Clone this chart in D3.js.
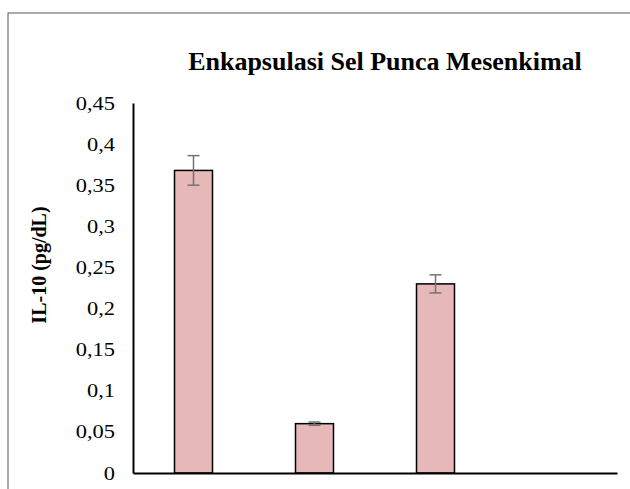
<!DOCTYPE html>
<html><head><meta charset="utf-8">
<script src="https://cdn.jsdelivr.net/npm/d3@7"></script>
<style>html,body{margin:0;padding:0;background:#fff;}svg{display:block;}
svg text{font-family:'Liberation Serif','Times New Roman','DejaVu Serif',serif;}</style>
</head><body>
<script>
const categories = ["A", "B", "C", "D"];
const values = [0.368, 0.060, 0.230, null];
const errors = [0.018, 0.002, 0.011, null];
const yTicks = [0, 0.05, 0.1, 0.15, 0.2, 0.25, 0.3, 0.35, 0.4, 0.45];
const title = "Enkapsulasi Sel Punca Mesenkimal";
const yLabel = "IL-10 (pg/dL)";

const W = 630, H = 489;
const FONT = "'Liberation Serif','Times New Roman','DejaVu Serif',serif";
const svg = d3.select("body").append("svg").attr("width", W).attr("height", H);
svg.append("rect").attr("x", 8).attr("y", 13).attr("width", 700).attr("height", 600)
  .attr("fill", "none").attr("stroke", "#595959").attr("stroke-width", 1);

const m = {left: 133, right: 617, top: 103, bottom: 473};
const x = d3.scaleBand().domain(categories).range([m.left, m.right]).paddingInner(0.686).paddingOuter(0.343);
const y = d3.scaleLinear().domain([0, 0.45]).range([m.bottom, m.top]);

const fmt = d => String(+d.toFixed(2)).replace(".", ",");
const sx = 1.18, pad = 18;
const yAxis = d3.axisLeft(y).tickValues(yTicks).tickFormat(fmt).tickSize(0).tickPadding(pad);
const gy = svg.append("g").attr("transform", `translate(${m.left},0)`).call(yAxis);
gy.attr("font-family", null);
gy.select(".domain").attr("stroke", "#000").attr("stroke-width", 2);
gy.selectAll("text").style("font-family", FONT).attr("font-size", 19).attr("fill", "#000")
  .attr("x", -pad / sx).attr("transform", `scale(${sx},1)`);

const data = categories.map((c, i) => ({c, v: values[i], e: errors[i]})).filter(d => d.v != null);
svg.append("g").selectAll("rect").data(data).join("rect")
  .attr("x", d => x(d.c)).attr("width", x.bandwidth())
  .attr("y", d => y(d.v)).attr("height", d => y(0) - y(d.v))
  .attr("fill", "#e6b8b7").attr("stroke", "#000").attr("stroke-width", 1.5);

const eb = svg.append("g").attr("stroke", "#737373").attr("stroke-width", 1.5);
data.forEach(d => {
  const cx = x(d.c) + x.bandwidth() / 2;
  eb.append("line").attr("x1", cx).attr("x2", cx).attr("y1", y(d.v + d.e)).attr("y2", y(d.v - d.e));
  [d.v + d.e, d.v - d.e].forEach(t => eb.append("line").attr("x1", cx - 6).attr("x2", cx + 6).attr("y1", y(t)).attr("y2", y(t)));
});

const xAxis = d3.axisBottom(x).tickSize(0).tickFormat("");
const gx = svg.append("g").attr("transform", `translate(0,${m.bottom})`).call(xAxis);
gx.select(".domain").attr("stroke", "#000").attr("stroke-width", 2);

svg.append("text").attr("x", 385).attr("y", 70).attr("text-anchor", "middle")
  .style("font-family", FONT).attr("font-weight", "bold").attr("font-size", 26)
  .text(title);
svg.append("text").attr("transform", `translate(46,265) rotate(-90)`).attr("text-anchor", "middle")
  .style("font-family", FONT).attr("font-weight", "bold").attr("font-size", 20)
  .text(yLabel);
</script>
</body></html>
